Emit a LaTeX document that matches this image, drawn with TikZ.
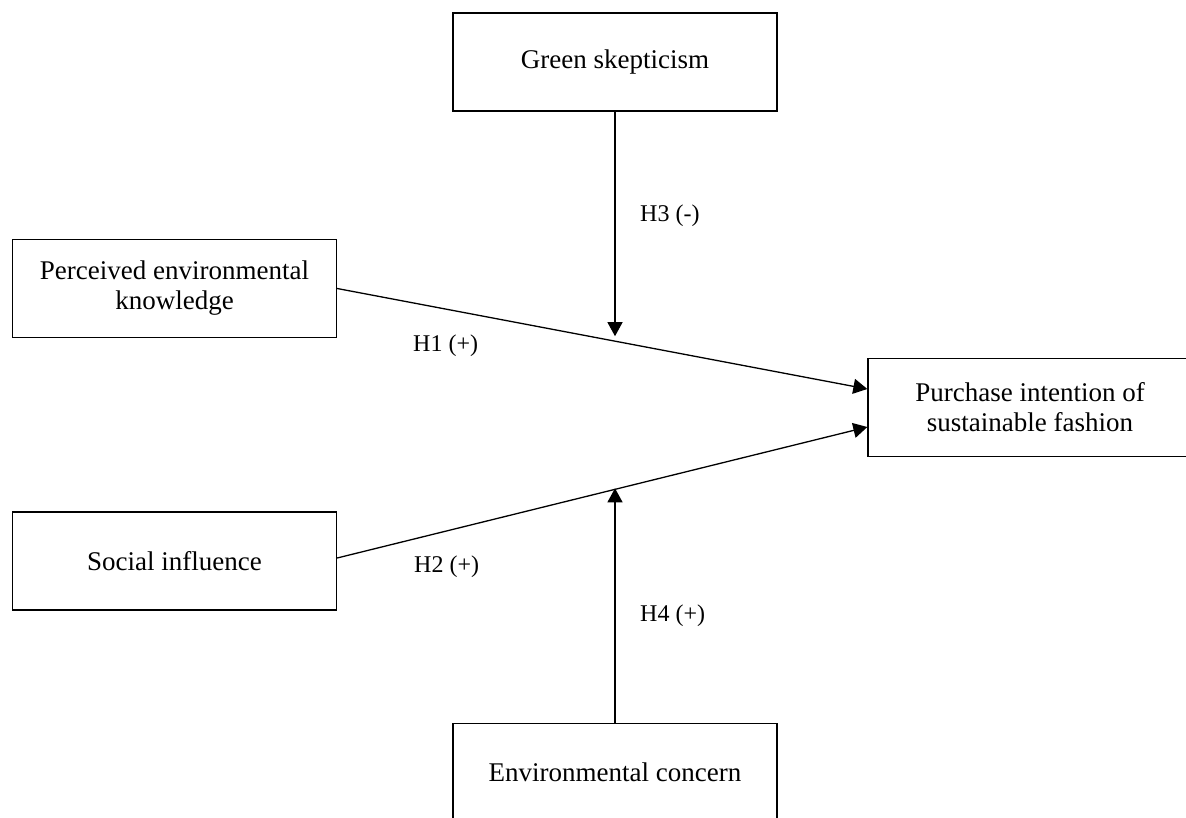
\documentclass[tikz,border=0pt]{standalone}
\usepackage{fontspec}
\setmainfont{Liberation Serif}
\usetikzlibrary{arrows.meta,calc}
\begin{document}
\begin{tikzpicture}[x=1pt,y=-1pt,
  box/.style={draw, line width=1.3pt, minimum width=324pt, minimum height=98pt,
    align=center, inner sep=0pt, font=\fontsize{27}{30}\selectfont},
  lbl/.style={inner sep=0pt, font=\fontsize{24}{28}\selectfont},
  arr/.style={line width=1.3pt, -{Triangle[length=14pt,width=15pt]}}]
\useasboundingbox (0,0) rectangle (1186,818);
\node[box] (green) at (615,62) {Green skepticism};
\node[box] (perc) at (174.5,288.5) {Perceived environmental\\knowledge};
\node[box] (social) at (174.5,561) {Social influence};
\node[box] (purch) at (1030,407.5) {Purchase intention of\\sustainable fashion};
\node[box] (env) at (615,772.5) {Environmental concern};
\coordinate (p1) at ([yshift=18.5pt]purch.west);
\coordinate (p2) at ([yshift=-19.5pt]purch.west);
\draw[arr] (perc.east) -- (p1);
\draw[arr] ([yshift=3pt]social.east) -- (p2);
\coordinate (m1) at ($(perc.east)!0.5244!(p1)$);
\coordinate (m2) at ($([yshift=3pt]social.east)!0.5244!(p2)$);
\draw[arr, shorten >=5pt] (green.south) -- (green.south |- m1);
\draw[arr, shorten >=-1pt] (env.north) -- (env.north |- m2);
\node[lbl, anchor=west] (h3) at (640,216) {H3 (-)};
\node[lbl, anchor=west] (h4) at (640,616) {H4 (+)};
\node[lbl, anchor=west] (h1) at (413,346) {H1 (+)};
\node[lbl, anchor=west] (h2) at (414,567) {H2 (+)};
\end{tikzpicture}
\end{document}
